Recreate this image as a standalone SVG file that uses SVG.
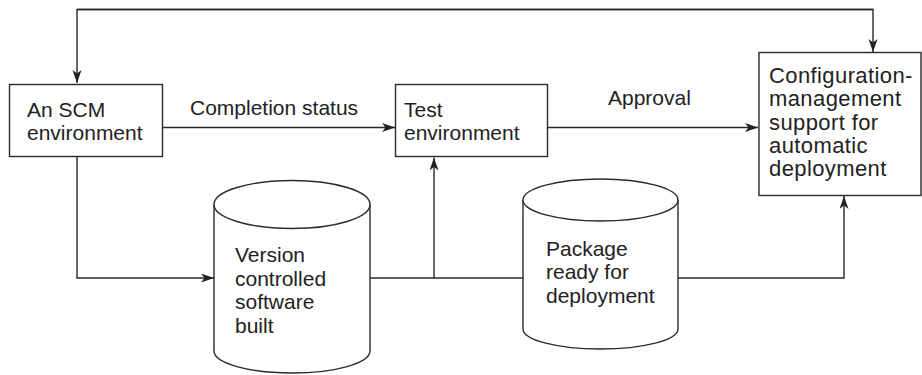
<svg xmlns="http://www.w3.org/2000/svg" width="922" height="375" viewBox="0 0 922 375">
<style>
.box{fill:#fff;stroke:#2a2a2a;stroke-width:1.4}
.ln{fill:none;stroke:#2a2a2a;stroke-width:1.4}
.t{font-family:"Liberation Sans",Arial,sans-serif;font-size:21px;fill:#222}
.tl{font-size:22px;letter-spacing:0.4px}
</style>
<defs>
<marker id="ah" markerUnits="userSpaceOnUse" markerWidth="14" markerHeight="10" refX="13" refY="4.5" orient="auto">
<path d="M0,0 L13,4.5 L0,9 L3.5,4.5 z" fill="#222"/>
</marker>
</defs>
<g id="connectors">
<path class="ln" d="M873,9.5 L77,9.5 L77,83" marker-end="url(#ah)"/>
<path class="ln" d="M77,9.5 L873,9.5 L873,52" marker-end="url(#ah)"/>
<path class="ln" d="M163,127.5 L395,127.5" marker-end="url(#ah)"/>
<path class="ln" d="M548,127.5 L758,127.5" marker-end="url(#ah)"/>
<path class="ln" d="M77,157 L77,278 L214,278" marker-end="url(#ah)"/>
<path class="ln" d="M370,278 L523,278"/>
<path class="ln" d="M434,278 L434,157.5" marker-end="url(#ah)"/>
<path class="ln" d="M678,278 L844,278 L844,196" marker-end="url(#ah)"/>
</g>
<g id="scm">
<rect class="box" x="9.5" y="84.5" width="153" height="72"/>
<text class="t" x="27" y="117">An SCM</text>
<text class="t" x="27" y="140">environment</text>
</g>
<g id="test">
<rect class="box" x="395.5" y="84.5" width="152" height="72"/>
<text class="t" x="404" y="117">Test</text>
<text class="t" x="404" y="140">environment</text>
</g>
<g id="config">
<rect class="box" x="759" y="52.5" width="162" height="143"/>
<text class="t tl" x="769" y="83">Configuration-</text>
<text class="t tl" x="769" y="106.3">management</text>
<text class="t tl" x="769" y="129.6">support for</text>
<text class="t tl" x="769" y="152.9">automatic</text>
<text class="t tl" x="769" y="176.2">deployment</text>
</g>
<g id="version">
<path class="box" d="M214,204.5 L214,351 A78,22 0 0 0 370,351 L370,204.5"/>
<ellipse class="box" cx="292" cy="204.5" rx="78" ry="24"/>
<text class="t" x="235" y="262">Version</text>
<text class="t" x="235" y="286">controlled</text>
<text class="t" x="235" y="309">software</text>
<text class="t" x="235" y="333">built</text>
</g>
<g id="package">
<path class="box" d="M523,200 L523,329 A77.5,20 0 0 0 678,329 L678,200"/>
<ellipse class="box" cx="600.5" cy="200" rx="77.5" ry="21"/>
<text class="t" x="546" y="256">Package</text>
<text class="t" x="546" y="279">ready for</text>
<text class="t" x="546" y="303">deployment</text>
</g>
<text class="t" x="190" y="115">Completion status</text>
<text class="t" x="608" y="105">Approval</text>
</svg>
